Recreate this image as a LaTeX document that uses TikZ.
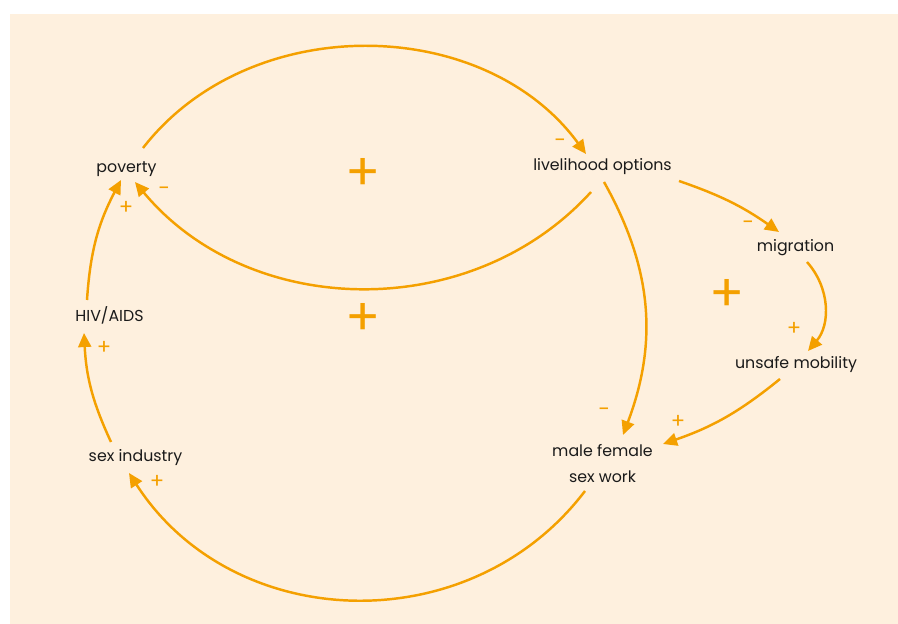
\documentclass[tikz,border=0pt]{standalone}
\usepackage{fontspec}
\setmainfont{Poppins}
\usetikzlibrary{arrows.meta,calc}

\definecolor{cream}{RGB}{254,240,222}
\definecolor{loopcol}{RGB}{244,160,0}
\definecolor{ink}{RGB}{26,26,26}

\begin{document}
\begin{tikzpicture}[x=0.03cm,y=0.03cm,
    var/.style={text=ink,font=\fontsize{13.5}{23}\selectfont,anchor=base,inner sep=0pt,align=center},
    link/.style={draw=loopcol,line width=2.1pt,-{Triangle[length=12pt,width=11pt]}},
    sign/.style={text=loopcol,font=\fontsize{18}{18}\selectfont},
    loopsign/.style={text=loopcol,font=\fontsize{44}{44}\selectfont}]

        \useasboundingbox (0,0) rectangle (898,624);
        \fill[cream] (10,0) rectangle (898,610);

        % variables
        \node[var] (poverty) at (126.5,451) {poverty};
        \node[var] (options) at (602.5,453) {livelihood options};
        \node[var] (migration) at (795.5,372) {migration};
        \node[var] (unsafe) at (796,255) {unsafe mobility};
        \node[var] (sexwork) at (602.5,141) {male female\\sex work};
        \node[var] (industry) at (135.5,162) {sex industry};
        \node[var] (hiv) at (109.5,302) {HIV/AIDS};

        % links
        \draw[link] ($(poverty.base)+(16.5,25)$) to[bend left=53] ($(options.base)+(-16.5,17)$);
        \draw[link] ($(options.base)+(-11.5,-21)$) to[bend left=49] ($(poverty.base)+(8.5,-9)$);
        \draw[link] ($(hiv.base)+(-22.5,22)$) to[bend left=12] ($(poverty.base)+(-5.5,-7)$);
        \draw[link] ($(industry.base)+(-24.5,20)$) to[bend left=11] ($(hiv.base)+(-25.5,-11)$);
        \draw[link,looseness=1.07] ($(sexwork.base)+(-17.5,-8)$) to[bend left=55] ($(industry.base)+(-6.5,-11)$);
        \draw[link] ($(options.base)+(1.5,-11)$) to[bend left=25] ($(sexwork.base)+(20.5,48)$);
        \draw[link] ($(options.base)+(76.5,-10)$) to[bend left=8] ($(migration.base)+(-16.5,20)$);
        \draw[link] ($(migration.base)+(11.5,-10)$) to[bend left=41] ($(unsafe.base)+(12,18)$);
        \draw[link] ($(unsafe.base)+(-16,-10)$) to[bend left=10] ($(sexwork.base)+(60.5,39)$);

        % link polarities
        \node[sign] (s1) at (560,481) {−};
        \node[sign] (s2) at (164,433) {−};
        \node[sign] (s3) at (126,416) {+};
        \node[sign] (s4) at (104,276) {+};
        \node[sign] (s5) at (157,142) {+};
        \node[sign] (s6) at (748,399) {−};
        \node[sign] (s7) at (794,295) {+};
        \node[sign] (s8) at (604,212) {−};
        \node[sign] (s9) at (678,202) {+};

        % loop polarities
        \node[loopsign] (r1) at (363,449) {+};
        \node[loopsign] (r2) at (363,304) {+};
        \node[loopsign] (r3) at (727,328) {+};
\end{tikzpicture}
\end{document}
